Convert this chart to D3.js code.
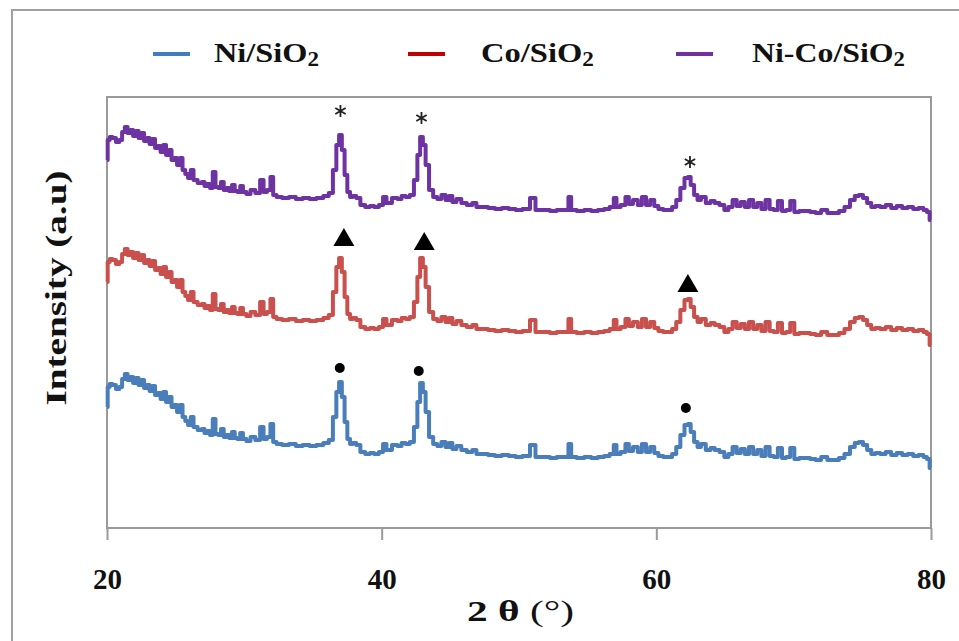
<!DOCTYPE html>
<html>
<head>
<meta charset="utf-8">
<script src="https://cdn.jsdelivr.net/npm/d3@7"></script>
<style>
  body { margin: 0; background: #fff; }
  text { font-family: "Liberation Serif", "Times New Roman", Tinos, serif; font-weight: bold; }
</style>
</head>
<body>
<div id="graph"></div>
<script>
// 2 theta positions (degrees), shared by the three patterns
const twoTheta = [
  20.0,20.1,20.3,20.5,20.8,21.0,21.2,21.4,21.6,21.8,
  22.0,22.2,22.4,22.6,22.8,23.0,23.2,23.4,23.6,23.8,
  24.0,24.2,24.4,24.6,24.8,25.0,25.2,25.4,25.6,25.8,
  26.0,26.2,26.4,26.8,27.0,27.2,27.4,27.6,27.8,28.0,
  28.2,28.4,28.6,28.8,29.0,29.2,29.4,29.6,29.8,30.0,
  30.3,30.6,31.0,31.3,31.5,31.8,32.0,32.2,32.5,33.0,
  33.5,34.0,34.5,35.0,35.5,36.0,36.3,36.6,36.8,37.0,
  37.2,37.4,37.6,37.8,38.0,38.3,38.6,39.0,39.3,39.6,
  40.0,40.2,40.5,41.0,41.3,41.6,41.9,42.2,42.5,42.7,
  42.9,43.1,43.3,43.6,43.9,44.2,44.5,44.8,45.0,45.3,
  45.6,46.0,46.4,46.8,47.0,47.5,48.0,48.5,49.0,49.5,
  50.0,50.5,51.1,51.3,52.0,52.5,53.0,53.5,53.7,53.9,
  54.5,55.0,55.5,56.0,56.4,56.8,57.0,57.2,57.6,57.9,
  58.1,58.5,58.8,59.1,59.4,59.7,60.0,60.3,60.7,61.0,
  61.3,61.6,61.9,62.2,62.4,62.6,62.9,63.1,63.4,63.8,
  64.1,64.4,64.8,65.1,65.4,65.7,66.0,66.3,66.6,66.9,
  67.2,67.5,67.8,68.1,68.4,68.7,69.0,69.3,69.6,69.9,
  70.2,70.6,71.0,71.4,71.8,72.2,72.7,73.1,73.5,73.9,
  74.3,74.6,74.9,75.2,75.5,75.8,76.1,76.5,76.9,77.3,
  77.7,78.1,78.5,78.9,79.3,79.6,79.8,80.0
];

// intensities (a.u, already stacked as in the figure)
const niSiO2 = [
  121,141,144,143,139,141,149,154,148,151,
  145,150,143,148,140,143,137,142,133,135,
  129,136,126,131,121,123,116,123,111,107,
  103,111,101,98,99,95,97,93,109,94,
  93,99,91,93,90,96,90,89,95,89,
  87,91,88,101,89,91,104,86,84,83,
  84,82,83,82,83,85,88,111,136,146,
  131,106,89,84,85,83,76,74,75,74,
  76,84,78,83,82,85,84,86,101,126,
  145,136,116,91,84,82,86,81,85,79,
  82,78,76,78,74,74,73,72,73,72,
  71,72,83,71,71,70,71,71,84,71,
  70,71,70,71,72,74,83,74,76,84,
  77,81,76,84,76,81,75,72,71,71,
  74,81,93,103,104,96,86,81,84,78,
  80,78,76,71,74,81,75,79,74,81,
  74,78,72,81,72,71,80,70,71,80,
  69,70,70,69,68,71,68,68,70,74,
  81,85,86,83,78,74,75,74,76,73,
  75,73,74,72,73,71,69,60
];

const coSiO2 = [
  246,266,269,268,264,266,274,279,273,276,
  270,275,268,273,265,268,262,267,258,260,
  254,261,251,256,246,248,241,248,236,232,
  228,236,226,223,224,220,222,218,234,219,
  218,224,216,218,215,221,215,214,220,214,
  212,216,213,226,214,216,229,211,209,208,
  209,207,208,207,208,210,213,236,261,270,
  256,231,214,209,210,208,201,199,200,199,
  201,209,203,208,207,210,209,211,226,251,
  270,261,241,216,209,207,211,206,210,204,
  207,203,201,203,199,199,198,197,198,197,
  196,197,208,196,196,195,196,196,209,196,
  195,196,195,196,197,199,208,199,201,209,
  202,206,201,209,201,206,200,197,196,196,
  199,206,218,228,229,221,211,206,209,203,
  205,203,201,196,199,206,200,204,199,206,
  199,203,197,206,197,196,205,195,196,205,
  194,195,195,194,193,196,193,193,195,199,
  206,210,211,208,203,199,200,199,201,198,
  200,198,199,197,198,196,194,183
];

const niCoSiO2 = [
  368,388,391,390,386,388,396,401,395,398,
  392,397,390,395,387,390,384,389,380,382,
  376,383,373,378,368,370,363,370,358,354,
  350,358,348,345,346,342,344,340,356,341,
  340,346,338,340,337,343,337,336,342,336,
  334,338,335,348,336,338,351,333,331,330,
  331,329,330,329,330,332,335,358,383,393,
  378,353,336,331,332,330,323,321,322,321,
  323,331,325,330,329,332,331,333,348,373,
  391,383,363,338,331,329,333,328,332,326,
  329,325,323,325,321,321,320,319,320,319,
  318,319,330,318,318,317,318,318,331,318,
  317,318,317,318,319,321,330,321,323,331,
  324,328,323,331,323,328,322,319,318,318,
  321,328,340,350,351,343,333,328,331,325,
  327,325,323,318,321,328,322,326,321,328,
  321,325,319,328,319,318,327,317,318,327,
  316,317,317,316,315,318,315,315,317,321,
  328,332,333,330,325,321,322,321,323,320,
  322,320,321,319,320,318,316,308
];

const seriesNames = ["Ni/SiO", "Co/SiO", "Ni-Co/SiO"];
const seriesData = [niSiO2, coSiO2, niCoSiO2];
const xTicks = [20, 40, 60, 80];

// peak markers: dot (Ni), triangle (Co), asterisk (Ni-Co)
const dotTheta = [36.95, 42.7, 62.15];
const dotValue = [160, 157, 120];
const triTheta = [37.25, 43.1, 62.3];
const triValue = [288, 284, 242];
const starTheta = [37.0, 42.9, 62.45];
const starValue = [417, 410, 366];

const w = 959, h = 641;
const lineColors = ["#4a7ebb", "#c9504c", "#6e33a3"];
const legendColors = ["#3f7dc2", "#c00000", "#7030a0"];

const svg = d3.select("#graph").append("svg")
  .attr("width", w).attr("height", h);

// outer chart border
svg.append("rect")
  .attr("x", 12).attr("y", 10).attr("width", 1000).attr("height", 700)
  .attr("fill", "none").attr("stroke", "#a0a0a0").attr("stroke-width", 2);

const xScale = d3.scaleLinear().domain([20, 80]).range([107, 931]);
const yScale = d3.scaleLinear().domain([0, 431]).range([528, 97]);

// plot area
svg.append("rect")
  .attr("x", xScale(20)).attr("y", yScale(431))
  .attr("width", xScale(80) - xScale(20)).attr("height", yScale(0) - yScale(431))
  .attr("fill", "none").attr("stroke", "#9a9a9a").attr("stroke-width", 2);

const xAxis = d3.axisBottom(xScale).tickValues(xTicks)
  .tickSizeInner(12).tickSizeOuter(0).tickPadding(28).tickFormat(d3.format("d"));

const gx = svg.append("g")
  .attr("transform", "translate(0," + yScale(0) + ")")
  .call(xAxis);
gx.select(".domain").remove();
gx.selectAll(".tick line").attr("stroke", "#9a9a9a").attr("stroke-width", 2);
gx.selectAll(".tick text")
  .attr("font-size", 29).attr("fill", "#111")
  .style("font-family", "'Liberation Serif', 'Times New Roman', serif").style("font-weight", "bold");

// patterns (step traces like the instrument export)
const line = d3.line()
  .x((d, i) => xScale(twoTheta[i]))
  .y(d => yScale(d))
  .curve(d3.curveStep);

seriesData.forEach((s, k) => {
  svg.append("path")
    .datum(s)
    .attr("fill", "none")
    .attr("stroke", lineColors[k])
    .attr("stroke-width", 4)
    .attr("stroke-linejoin", "round")
    .attr("d", line);
});

// peak markers
svg.selectAll("circle.dot")
  .data(dotTheta)
  .enter().append("circle")
  .attr("class", "dot")
  .attr("cx", d => xScale(d))
  .attr("cy", (d, i) => yScale(dotValue[i]))
  .attr("r", 5)
  .attr("fill", "#000");

svg.selectAll("path.tri")
  .data(triTheta)
  .enter().append("path")
  .attr("class", "tri")
  .attr("d", d3.symbol(d3.symbolTriangle, 190))
  .attr("transform", (d, i) => "translate(" + xScale(d) + "," + yScale(triValue[i]) + ")")
  .attr("fill", "#000");

svg.selectAll("path.star")
  .data(starTheta)
  .enter().append("path")
  .attr("class", "star")
  .attr("d", d3.symbol(d3.symbolAsterisk, 100))
  .attr("transform", (d, i) => "translate(" + xScale(d) + "," + yScale(starValue[i]) + ")")
  .attr("fill", "none")
  .attr("stroke", "#222")
  .attr("stroke-width", 1.8);

// stretch a text node to a wanted width
function fitWidth(sel, x, width) {
  const bw = sel.node().getBBox().width;
  sel.attr("transform", "translate(" + x + ",0) scale(" + (width / bw) + ",1)");
}

// legend
const legendLineX = [153, 408, 676];
const legendTextX = [214, 481, 752];
const legendTextW = [105, 113, 153];
seriesNames.forEach((name, k) => {
  svg.append("line")
    .attr("x1", legendLineX[k]).attr("x2", legendLineX[k] + 37)
    .attr("y1", 54).attr("y2", 54)
    .attr("stroke", legendColors[k]).attr("stroke-width", 4);
  const t = svg.append("text")
    .attr("x", 0).attr("y", 62)
    .attr("font-size", 28).attr("fill", "#111");
  t.append("tspan").text(name);
  t.append("tspan").attr("font-size", 20).attr("dy", 4).text("2");
  fitWidth(t, legendTextX[k], legendTextW[k]);
});

// axis titles
const xt = svg.append("text")
  .attr("x", 0).attr("y", 621)
  .attr("font-size", 29).attr("fill", "#111");
xt.append("tspan").text("2 θ ");
xt.append("tspan").style("font-weight", "normal").text("(°)");
fitWidth(xt, 467, 107);

const yt = svg.append("text")
  .attr("font-size", 30).attr("fill", "#111")
  .attr("text-anchor", "middle")
  .attr("transform", "translate(66,288) rotate(-90)")
  .text("Intensity (a.u)");
const ybw = yt.node().getBBox().width;
yt.attr("transform", "translate(66,288) rotate(-90) scale(" + (235 / ybw) + ",1)");
</script>
</body>
</html>
